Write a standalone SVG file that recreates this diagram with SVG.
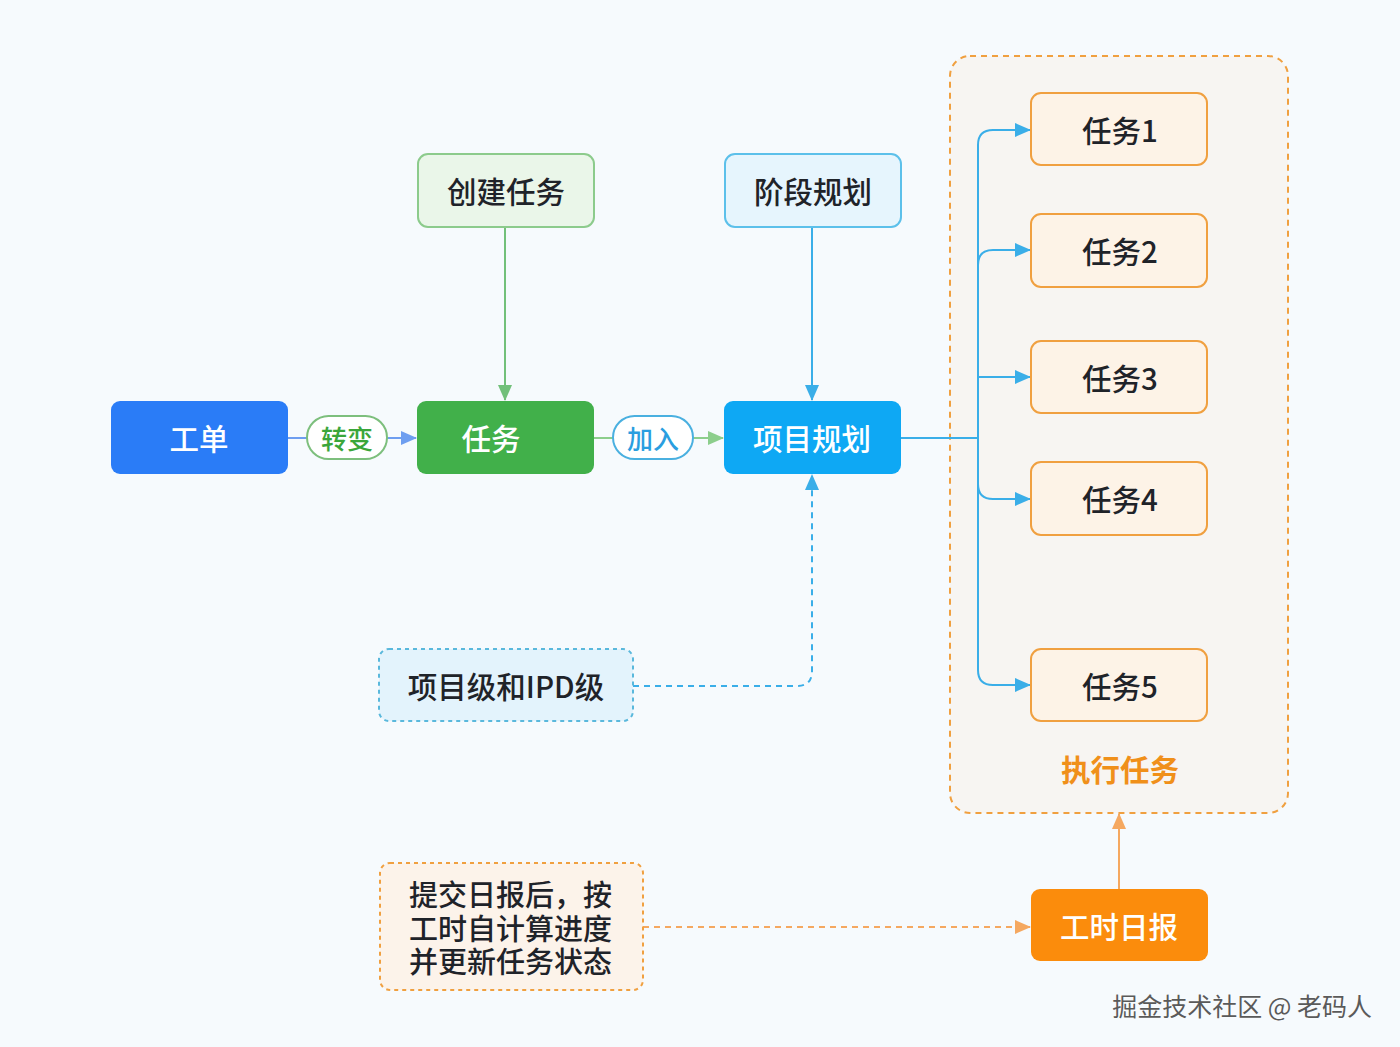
<svg xmlns="http://www.w3.org/2000/svg" width="1400" height="1047" viewBox="0 0 1400 1047">
<style>
text{font-family:"Noto Sans CJK SC","Noto Sans",sans-serif;text-anchor:middle;dominant-baseline:central}
.t{font-size:29.5px;fill:#1f2329;font-weight:500}
.w{font-size:29.5px;fill:#fff;font-weight:500}
.task rect{fill:#fdf3e7;stroke:#f0a040;stroke-width:2}
.bl{fill:none;stroke:#3aaee8;stroke-width:2}
</style>
<defs>
<marker id="ab" viewBox="0 0 16 14" refX="15" refY="7" markerWidth="16" markerHeight="14" markerUnits="userSpaceOnUse" orient="auto"><path d="M0,0L16,7L0,14z" fill="#3aaee8"/></marker>
<marker id="ag" viewBox="0 0 16 14" refX="15" refY="7" markerWidth="16" markerHeight="14" markerUnits="userSpaceOnUse" orient="auto"><path d="M0,0L16,7L0,14z" fill="#8cce8c"/></marker>
<marker id="agd" viewBox="0 0 16 14" refX="15" refY="7" markerWidth="16" markerHeight="14" markerUnits="userSpaceOnUse" orient="auto"><path d="M0,0L16,7L0,14z" fill="#72c07a"/></marker>
<marker id="au" viewBox="0 0 16 14" refX="15" refY="7" markerWidth="16" markerHeight="14" markerUnits="userSpaceOnUse" orient="auto"><path d="M0,0L16,7L0,14z" fill="#6e9ef0"/></marker>
<marker id="ao" viewBox="0 0 16 14" refX="15" refY="7" markerWidth="16" markerHeight="14" markerUnits="userSpaceOnUse" orient="auto"><path d="M0,0L16,7L0,14z" fill="#f5a860"/></marker>
</defs>
<rect width="1400" height="1047" fill="#f6fafd"/>

<g id="group-exec">
<rect x="950" y="56" width="338" height="757" rx="20" fill="#f7f5f2" stroke="#f0a040" stroke-width="2" stroke-dasharray="6,5"/>
<text x="1120" y="768" style="font-size:29.5px;font-weight:700;fill:#f0901a">执行任务</text>
</g>

<g id="connectors">
<line x1="288" y1="438" x2="308" y2="438" stroke="#6e9ef0" stroke-width="2"/>
<line x1="387" y1="438" x2="416" y2="438" stroke="#6e9ef0" stroke-width="2" marker-end="url(#au)"/>
<line x1="594" y1="438" x2="613" y2="438" stroke="#8cce8c" stroke-width="2"/>
<line x1="693" y1="438" x2="723" y2="438" stroke="#8cce8c" stroke-width="2" marker-end="url(#ag)"/>
<line x1="505" y1="227" x2="505" y2="400" stroke="#72c07a" stroke-width="2" marker-end="url(#agd)"/>
<line x1="812" y1="227" x2="812" y2="400" class="bl" marker-end="url(#ab)"/>
<path d="M633,686H797Q812,686 812,671V475" fill="none" stroke="#3aaee8" stroke-width="2" stroke-dasharray="6,5" marker-end="url(#ab)"/>
<line x1="901" y1="438" x2="978" y2="438" class="bl"/>
<path d="M978,670V145" class="bl"/>
<path d="M978,145Q978,130 993,130H1030" class="bl" marker-end="url(#ab)"/>
<path d="M978,265Q978,250 993,250H1030" class="bl" marker-end="url(#ab)"/>
<path d="M978,377H1030" class="bl" marker-end="url(#ab)"/>
<path d="M978,484Q978,499 993,499H1030" class="bl" marker-end="url(#ab)"/>
<path d="M978,670Q978,685 993,685H1030" class="bl" marker-end="url(#ab)"/>
<line x1="1119" y1="889" x2="1119" y2="814" stroke="#f5a860" stroke-width="2" marker-end="url(#ao)"/>
<line x1="643" y1="927" x2="1030" y2="927" stroke="#f5a860" stroke-width="2" stroke-dasharray="6,5" marker-end="url(#ao)"/>
</g>

<g id="label-zhuanbian">
<rect x="307" y="416" width="80" height="43" rx="21.5" fill="#fff" stroke="#7dbf7d" stroke-width="2"/>
<text x="347" y="437" style="font-size:26px;fill:#3aa63a;font-weight:500">转变</text>
</g>
<g id="label-jiaru">
<rect x="613" y="416" width="80" height="43" rx="21.5" fill="#fff" stroke="#4ab0e0" stroke-width="2"/>
<text x="653" y="437" style="font-size:26px;fill:#2a9ee0;font-weight:500">加入</text>
</g>

<g id="node-gongdan">
<rect x="111" y="401" width="177" height="73" rx="9" fill="#2a7cf7"/>
<text x="199" y="437" class="w">工单</text>
</g>
<g id="node-renwu">
<rect x="417" y="401" width="177" height="73" rx="9" fill="#41b04a"/>
<text x="491" y="437" class="w">任务</text>
</g>
<g id="node-xiangmuguihua">
<rect x="724" y="401" width="177" height="73" rx="9" fill="#0ea8f4"/>
<text x="812" y="437" class="w">项目规划</text>
</g>
<g id="node-chuangjian">
<rect x="418" y="154" width="176" height="73" rx="10" fill="#eaf6e9" stroke="#8ccb8c" stroke-width="2"/>
<text x="506" y="190" class="t">创建任务</text>
</g>
<g id="node-jieduan">
<rect x="725" y="154" width="176" height="73" rx="10" fill="#e6f5fd" stroke="#5cc0ea" stroke-width="2"/>
<text x="813" y="190" class="t">阶段规划</text>
</g>
<g id="node-ipd">
<rect x="379" y="649" width="254" height="72" rx="10" fill="#e3f3fc" stroke="#5ab8dc" stroke-width="2" stroke-dasharray="4,4"/>
<text x="506" y="685" class="t">项目级和IPD级</text>
</g>

<g id="task1" class="task"><rect x="1031" y="93" width="176" height="72" rx="10"/><text x="1120" y="129" class="t">任务1</text></g>
<g id="task2" class="task"><rect x="1031" y="214" width="176" height="73" rx="10"/><text x="1120" y="250" class="t">任务2</text></g>
<g id="task3" class="task"><rect x="1031" y="341" width="176" height="72" rx="10"/><text x="1120" y="377" class="t">任务3</text></g>
<g id="task4" class="task"><rect x="1031" y="462" width="176" height="73" rx="10"/><text x="1120" y="498" class="t">任务4</text></g>
<g id="task5" class="task"><rect x="1031" y="649" width="176" height="72" rx="10"/><text x="1120" y="685" class="t">任务5</text></g>

<g id="node-gongshi">
<rect x="1031" y="889" width="177" height="72" rx="9" fill="#fb8c0c"/>
<text x="1119" y="925" class="w">工时日报</text>
</g>
<g id="node-note">
<rect x="380" y="863" width="263" height="127" rx="10" fill="#fcf3ea" stroke="#f0a040" stroke-width="2" stroke-dasharray="4,4"/>
<text x="409" y="893" class="t" style="text-anchor:start;font-size:29px">提交日报后，按</text>
<text x="409" y="927" class="t" style="text-anchor:start;font-size:29px">工时自计算进度</text>
<text x="409" y="960" class="t" style="text-anchor:start;font-size:29px">并更新任务状态</text>
</g>

<text x="1372" y="1005" style="text-anchor:end;font-size:25px;fill:#5a5a5a;stroke:#fff;stroke-width:0.6;paint-order:stroke">掘金技术社区 @ 老码人</text>
</svg>
